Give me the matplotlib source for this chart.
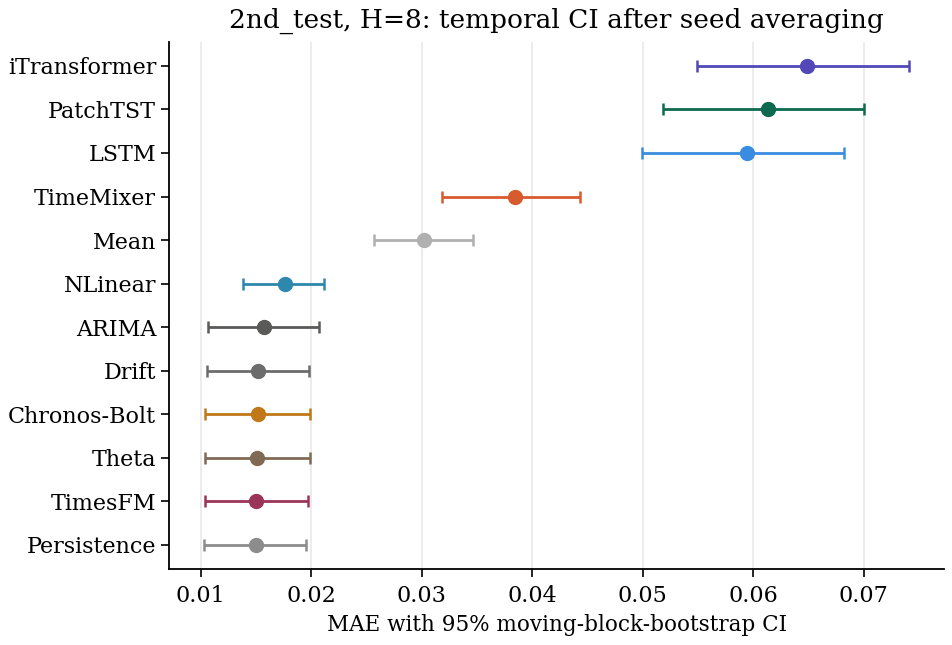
import matplotlib
matplotlib.use("Agg")
import matplotlib.pyplot as plt

# models listed top to bottom
models = ["iTransformer", "PatchTST", "LSTM", "TimeMixer", "Mean", "NLinear",
          "ARIMA", "Drift", "Chronos-Bolt", "Theta", "TimesFM", "Persistence"]
mae = [0.0649, 0.0613, 0.0594, 0.0384, 0.0302, 0.0176,
       0.0157, 0.0152, 0.0152, 0.0151, 0.0150, 0.0150]
ci_low = [0.0549, 0.0518, 0.0499, 0.0318, 0.0257, 0.0138,
          0.0107, 0.0106, 0.0104, 0.0104, 0.0104, 0.0103]
ci_high = [0.0741, 0.0700, 0.0682, 0.0443, 0.0346, 0.0212,
           0.0207, 0.0198, 0.0199, 0.0199, 0.0197, 0.0195]
colors = ["#5248b8", "#0d6a4f", "#3a8ce0", "#d85a2f", "#b0b0b0", "#2e88ae",
          "#5a5a58", "#6c6c6c", "#c07818", "#806a55", "#9b3557", "#8c8c8c"]

plt.rcParams["font.family"] = "DejaVu Serif"

fig, ax = plt.subplots(figsize=(9.53, 6.45), dpi=100)
fig.subplots_adjust(left=0.177, right=0.991, top=0.935, bottom=0.118)

n = len(models)
for i, (m, v, lo, hi, c) in enumerate(zip(models, mae, ci_low, ci_high, colors)):
    y = n - 1 - i
    ax.errorbar(v, y, xerr=[[v - lo], [hi - v]], fmt="o", color=c,
                ecolor=c, elinewidth=2, capsize=4, capthick=1.8,
                markersize=10, zorder=3)

ax.set_yticks(range(n))
ax.set_yticklabels(models[::-1], fontsize=16)
ax.tick_params(axis="x", labelsize=16, pad=6)
ax.tick_params(axis="both", length=5.5, width=1.2)
ax.set_xlabel("MAE with 95% moving-block-bootstrap CI", fontsize=15.5, labelpad=5)
ax.set_title("2nd_test, H=8: temporal CI after seed averaging", fontsize=19, pad=10)
ax.grid(axis="x", color="#ebebeb", linewidth=1.3, zorder=0)
ax.set_axisbelow(True)
ax.spines["top"].set_visible(False)
ax.spines["right"].set_visible(False)
ax.spines["left"].set_linewidth(1.3)
ax.spines["bottom"].set_linewidth(1.3)

fig.savefig("out.png", dpi=100)
